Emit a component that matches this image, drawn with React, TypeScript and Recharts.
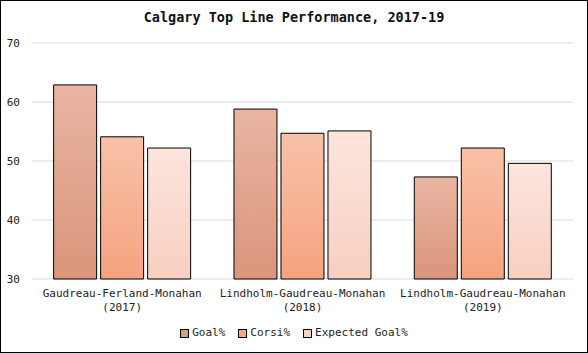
import React from "react";
import { BarChart, Bar, XAxis, YAxis, CartesianGrid } from "recharts";

const lines = ["Gaudreau-Ferland-Monahan|(2017)", "Lindholm-Gaudreau-Monahan|(2018)", "Lindholm-Gaudreau-Monahan|(2019)"];
const goalPct = [62.9, 58.8, 47.3];
const corsiPct = [54.1, 54.7, 52.2];
const xgPct = [52.2, 55.1, 49.6];
const yTicks = [30, 40, 50, 60, 70];

const series = [
  { key: "goal", name: "Goal%", top: "#E8B5A2", bottom: "#DA957B", legend: "#DC9A80" },
  { key: "corsi", name: "Corsi%", top: "#F8C1A8", bottom: "#F5A37F", legend: "#F6A884" },
  { key: "xg", name: "Expected Goal%", top: "#FCE5DD", bottom: "#F8CFC1", legend: "#F9D3C6" },
];

const data = lines.map((c, i) => ({ cat: c, goal: goalPct[i], corsi: corsiPct[i], xg: xgPct[i] }));

const FONT = "'DejaVu Sans Mono', monospace";

const XTick = (props: any) => {
  const { x, y, payload } = props;
  const [a, b] = String(payload.value).split("|");
  return (
    <text x={x} y={y} textAnchor="middle" fontFamily={FONT} fontSize={11} fill="#222">
      <tspan x={x} dy={14}>{a}</tspan>
      <tspan x={x} dy={14}>{b}</tspan>
    </text>
  );
};

export default function App() {
  return (
    <div style={{ position: "absolute", left: 0, top: 0, width: 588, height: 353, background: "#fff" }}>
      <BarChart
        width={588}
        height={353}
        data={data}
        margin={{ top: 43, right: 15, bottom: 44, left: 2 }}
        barCategoryGap="12%"
        barGap={4}
      >
        <defs>
          {series.map((s) => (
            <linearGradient key={s.key} id={"g-" + s.key} x1="0" y1="0" x2="0" y2="1">
              <stop offset="0%" stopColor={s.top} />
              <stop offset="100%" stopColor={s.bottom} />
            </linearGradient>
          ))}
        </defs>
        <CartesianGrid vertical={false} stroke="#d9d9d9" strokeWidth={1} />
        <XAxis
          dataKey="cat"
          axisLine={false}
          tickLine={false}
          tickSize={0}
          tickMargin={4}
          height={30}
          interval={0}
          tick={<XTick />}
        />
        <YAxis
          domain={[30, 70]}
          ticks={yTicks}
          axisLine={false}
          tickLine={false}
          tickSize={0}
          tickMargin={12}
          width={30}
          tick={{ fontFamily: FONT, fontSize: 11, fill: "#222" }}
        />
        {series.map((s) => (
          <Bar
            key={s.key}
            dataKey={s.key}
            name={s.name}
            fill={`url(#g-${s.key})`}
            stroke="#000"
            strokeWidth={1}
            isAnimationActive={false}
          />
        ))}
      </BarChart>
      <div
        style={{
          position: "absolute",
          top: 8,
          left: 0,
          width: 588,
          textAlign: "center",
          fontFamily: FONT,
          fontWeight: "bold",
          fontSize: 13.5,
          color: "#111",
          lineHeight: "18px",
        }}
      >
        Calgary Top Line Performance, 2017-19
      </div>
      <div
        style={{
          position: "absolute",
          top: 325,
          left: 0,
          width: 588,
          display: "flex",
          justifyContent: "center",
          fontFamily: FONT,
          fontSize: 11,
          color: "#222",
          lineHeight: "16px",
        }}
      >
        {series.map((s, i) => (
          <div
            key={s.key}
            style={{ display: "flex", alignItems: "center", marginLeft: i === 0 ? 0 : 13 }}
          >
            <span
              style={{
                display: "inline-block",
                width: 7,
                height: 7,
                background: s.legend,
                border: "1px solid #000",
                marginRight: 3,
              }}
            />
            <span>{s.name}</span>
          </div>
        ))}
      </div>
      <div
        style={{
          position: "absolute",
          left: 0,
          top: 0,
          width: 588,
          height: 353,
          border: "1px solid #000",
          boxSizing: "border-box",
          pointerEvents: "none",
        }}
      />
    </div>
  );
}
